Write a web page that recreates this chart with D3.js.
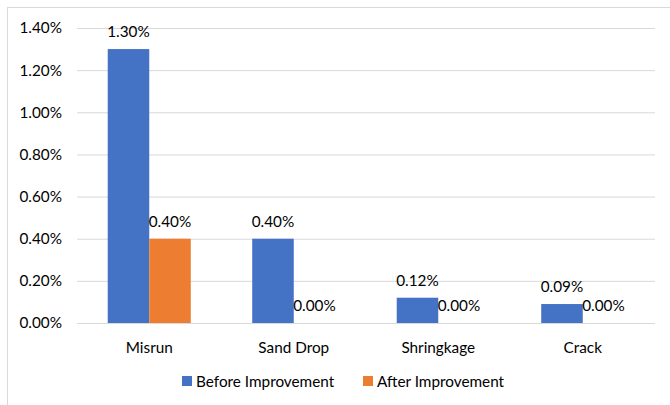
<!DOCTYPE html>
<html>
<head>
<meta charset="utf-8">
<script src="https://cdn.jsdelivr.net/npm/d3@7"></script>
<style>
  html, body { margin: 0; padding: 0; background: #fff; }
  svg { display: block; font-family: Lato, "Open Sans", sans-serif; }
</style>
</head>
<body>
<svg id="chart" width="670" height="405"></svg>
<script>
// Defect rates per category, in percent
const categories = ["Misrun", "Sand Drop", "Shringkage", "Crack"];
const seriesNames = ["Before Improvement", "After Improvement"];
const beforeValues = [1.30, 0.40, 0.12, 0.09];
const afterValues = [0.40, 0.00, 0.00, 0.00];
const yTicks = [0, 0.2, 0.4, 0.6, 0.8, 1.0, 1.2, 1.4];
const colors = ["#4472C4", "#ED7D31"];

const svg = d3.select("#chart");
const W = 670, H = 405;
const plot = { left: 77, right: 655, top: 28, bottom: 323 };
const FS = 15.3;

// Chart frame
svg.append("rect")
  .attr("x", 7.5).attr("y", 7.5)
  .attr("width", W + 10).attr("height", H + 10)
  .attr("fill", "#fff").attr("stroke", "#d9d9d9").attr("stroke-width", 1);

const x = d3.scaleBand().domain(categories).range([plot.left, plot.right]).paddingInner(0).paddingOuter(0);
const xs = d3.scaleBand().domain(seriesNames).range([0, x.bandwidth()]).paddingInner(0).paddingOuter(0.74);
const y = d3.scaleLinear().domain([0, 1.4]).range([plot.bottom, plot.top]);

// Gridlines and y labels
const yAxis = d3.axisLeft(y).tickValues(yTicks)
  .tickSize(-(plot.right - plot.left))
  .tickPadding(15)
  .tickFormat(d => d.toFixed(2) + "%");
const gy = svg.append("g").attr("transform", `translate(${plot.left},0)`).call(yAxis);
gy.select(".domain").remove();
gy.selectAll(".tick line").attr("stroke", "#d9d9d9").attr("stroke-width", 1);
gy.selectAll(".tick text").attr("fill", "#000").attr("font-size", FS)
  .attr("font-family", "Lato, sans-serif");

// Category labels
const xAxis = d3.axisBottom(x).tickSize(0).tickPadding(19);
const gx = svg.append("g").attr("transform", `translate(0,${plot.bottom})`).call(xAxis);
gx.select(".domain").remove();
gx.selectAll(".tick text").attr("fill", "#000").attr("font-size", FS)
  .attr("font-family", "Lato, sans-serif");

// Bars
const rows = categories.map((c, i) => ({ cat: c, vals: [beforeValues[i], afterValues[i]] }));
const groups = svg.append("g").selectAll("g").data(rows).join("g")
  .attr("transform", d => `translate(${x(d.cat)},0)`);

groups.selectAll("rect").data(d => d.vals.map((v, j) => ({ v, s: seriesNames[j], j })))
  .join("rect")
  .attr("x", d => xs(d.s))
  .attr("y", d => y(d.v))
  .attr("width", xs.bandwidth())
  .attr("height", d => y(0) - y(d.v))
  .attr("fill", d => colors[d.j]);

// Value labels
groups.selectAll("text.val").data(d => d.vals.map((v, j) => ({ v, s: seriesNames[j], j })))
  .join("text").attr("class", "val")
  .attr("x", d => xs(d.s) + xs.bandwidth() / 2)
  .attr("y", d => y(d.v) - 12)
  .attr("text-anchor", "middle")
  .attr("font-size", FS)
  .attr("fill", "#000")
  .text(d => d.v.toFixed(2) + "%");

// Legend
const legend = svg.append("g").attr("transform", "translate(182,376)");
const legendX = [0, 181];
seriesNames.forEach((name, i) => {
  const g = legend.append("g").attr("transform", `translate(${legendX[i]},0)`);
  g.append("rect").attr("width", 10).attr("height", 10).attr("fill", colors[i]);
  g.append("text").attr("x", 14).attr("y", 10.5).attr("font-size", FS).attr("fill", "#000").text(name);
});
</script>
</body>
</html>
